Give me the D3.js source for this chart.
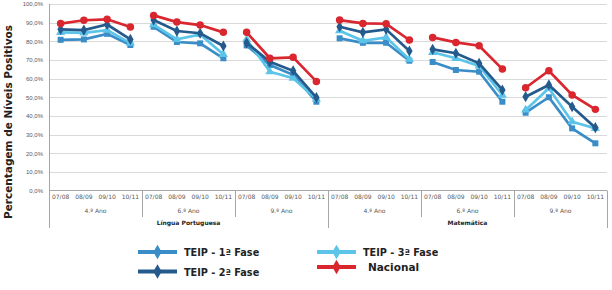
<!DOCTYPE html>
<html>
<head>
<meta charset="utf-8">
<script src="https://cdn.jsdelivr.net/npm/d3@7"></script>
<style>
  body { margin: 0; background: #fff; }
  svg { font-family: "DejaVu Sans", Verdana, sans-serif; }
  .grid line { stroke: #d9d9d9; stroke-width: 1; }
  .tick-label { font-size: 6px; fill: #595959; }
</style>
</head>
<body>
<div id="chart"></div>
<script>
var subjects = ["Língua Portuguesa", "Matemática"];
var grades = ["4.º Ano", "6.º Ano", "9.º Ano"];
var years = ["07/08", "08/09", "09/10", "10/11"];
var yTicks = [0, 10, 20, 30, 40, 50, 60, 70, 80, 90, 100];

var teip1 = [80.8, 81, 84, 78, 87.8, 79.6, 78.9, 70.9, 77.8, 67.3, 62, 47.6,
             81.6, 79.2, 79.2, 69.6, 68.9, 64.6, 63.7, 47.6, 41.7, 50, 33.3, 25.3];
var teip2 = [86.4, 86, 89, 81, 91.4, 85.5, 84.3, 77.5, 79.2, 69, 64.2, 49.8,
             87.8, 84.8, 86.4, 74.8, 75.7, 73.6, 68.2, 53.9, 50.3, 56.6, 44.9, 33.7];
var teip3 = [84.8, 84.5, 86, 79, 88.9, 81, 83.7, 73, 81, 63.7, 60.2, 49,
             85.7, 80.3, 82.1, 70.3, 74.1, 70.9, 66.8, 51.2, 43.2, 54.8, 36.9, 33.3];
var nacional = [89.5, 91.3, 91.8, 87.7, 93.9, 90.3, 88.7, 84.8, 84.8, 70.9, 71.4, 58.5,
                91.4, 89.6, 89.4, 80.7, 82.1, 79.4, 77.6, 65.1, 55.1, 64.2, 51.2, 43.5];

var series = [
  {name: "TEIP - 1ª Fase", values: teip1, color: "#3a8dc6", shape: d3.symbolSquare},
  {name: "TEIP - 3ª Fase", values: teip3, color: "#5cc4e8", shape: d3.symbolTriangle},
  {name: "TEIP - 2ª Fase", values: teip2, color: "#245a8c", shape: d3.symbolDiamond},
  {name: "Nacional", values: nacional, color: "#d9262f", shape: d3.symbolCircle}
];

// flat list of the 24 categories
var cats = [];
subjects.forEach(function(s, si) {
  grades.forEach(function(g, gi) {
    years.forEach(function(y, yi) {
      cats.push({subject: s, grade: g, year: y, group: si * grades.length + gi});
    });
  });
});

var width = 612, height = 290;
var plot = {left: 49, right: 607, top: 4, bottom: 190.5};

var svg = d3.select("#chart").append("svg")
    .attr("width", width)
    .attr("height", height);

var xScale = d3.scaleBand()
    .domain(d3.range(cats.length))
    .range([plot.left, plot.right]);

var yScale = d3.scaleLinear()
    .domain([0, 100])
    .range([plot.bottom, plot.top]);

// gridlines
svg.append("g")
    .attr("class", "grid")
  .selectAll("line")
    .data(yTicks.slice(1))
  .enter().append("line")
    .attr("x1", plot.left)
    .attr("x2", plot.right)
    .attr("y1", function(d) { return Math.round(yScale(d)) + 0.5; })
    .attr("y2", function(d) { return Math.round(yScale(d)) + 0.5; });

// y axis
var yAxis = svg.append("g")
    .attr("transform", "translate(" + plot.left + ",0)")
    .call(d3.axisLeft(yScale)
      .tickValues(yTicks)
      .tickSize(0)
      .tickPadding(6)
      .tickFormat(function(d) { return d3.format(".1f")(d).replace(".", ",") + "%"; }));
yAxis.select(".domain").remove();
yAxis.selectAll("text").attr("class", "tick-label").attr("font-family", null).attr("font-size", null);

// axis frame lines
var axisColor = "#a6a6a6";
svg.append("line")
    .attr("x1", plot.left + 0.5).attr("x2", plot.left + 0.5)
    .attr("y1", plot.top).attr("y2", 228)
    .attr("stroke", axisColor);
svg.append("line")
    .attr("x1", plot.left).attr("x2", plot.right)
    .attr("y1", plot.bottom).attr("y2", plot.bottom)
    .attr("stroke", axisColor);

// category tick labels
svg.append("g").selectAll("text")
    .data(cats)
  .enter().append("text")
    .attr("class", "tick-label")
    .attr("x", function(d, i) { return xScale(i) + xScale.bandwidth() / 2; })
    .attr("y", 199)
    .attr("text-anchor", "middle")
    .text(function(d) { return d.year; });

// grade group labels + separators
var groupW = xScale.bandwidth() * years.length;
var groups = d3.range(subjects.length * grades.length);
svg.append("g").selectAll("text")
    .data(groups)
  .enter().append("text")
    .attr("class", "tick-label")
    .attr("x", function(g) { return xScale(g * years.length) + groupW / 2; })
    .attr("y", 213)
    .attr("text-anchor", "middle")
    .text(function(g) { return grades[g % grades.length]; });

svg.append("g").selectAll("line")
    .data(d3.range(1, groups.length + 1))
  .enter().append("line")
    .attr("x1", function(g) { return Math.round(xScale(g * years.length - 1) + xScale.bandwidth()) + 0.5; })
    .attr("x2", function(g) { return Math.round(xScale(g * years.length - 1) + xScale.bandwidth()) + 0.5; })
    .attr("y1", plot.bottom)
    .attr("y2", function(g) { return g % grades.length == 0 ? 228 : 217; })
    .attr("stroke", axisColor);

// subject labels
var subjW = groupW * grades.length;
svg.append("g").selectAll("text")
    .data(subjects)
  .enter().append("text")
    .attr("x", function(s, i) { return xScale(i * years.length * grades.length) + subjW / 2; })
    .attr("y", 225)
    .attr("text-anchor", "middle")
    .attr("font-size", "6px")
    .attr("font-weight", "bold")
    .attr("fill", "#222")
    .text(function(s) { return s; });

// y axis title
svg.append("text")
    .attr("transform", "translate(12,122) rotate(-90)")
    .attr("text-anchor", "middle")
    .attr("font-size", "10.5px")
    .attr("font-weight", "bold")
    .attr("fill", "#222")
    .text("Percentagem  de Níveis Positivos");

// lines, one segment per grade group
var line = d3.line()
    .x(function(d) { return xScale(d.i) + xScale.bandwidth() / 2; })
    .y(function(d) { return yScale(d.v); });

series.forEach(function(s) {
  var g = svg.append("g");
  groups.forEach(function(grp) {
    var pts = d3.range(years.length).map(function(k) {
      var i = grp * years.length + k;
      return {i: i, v: s.values[i]};
    });
    g.append("path")
        .datum(pts)
        .attr("d", line)
        .attr("fill", "none")
        .attr("stroke", s.color)
        .attr("stroke-width", 2.7);
  });
  g.selectAll(".dot")
      .data(s.values)
    .enter().append("path")
      .attr("d", d3.symbol().type(s.shape).size(s.shape === d3.symbolCircle ? 44 : 36))
      .attr("transform", function(d, i) {
        return "translate(" + (xScale(i) + xScale.bandwidth() / 2) + "," + yScale(d) + ")";
      })
      .attr("fill", s.color);
});

// legend
var legendPos = {
  "TEIP - 1ª Fase": [138, 252],
  "TEIP - 2ª Fase": [138, 271.5],
  "TEIP - 3ª Fase": [317, 252],
  "Nacional": [317, 267]
};
series.forEach(function(s) {
  var p = legendPos[s.name];
  var lg = svg.append("g").attr("transform", "translate(" + p[0] + "," + p[1] + ")");
  lg.append("line")
      .attr("x1", 0).attr("x2", 39)
      .attr("stroke", s.color)
      .attr("stroke-width", 4);
  lg.append("path")
      .attr("d", d3.symbol().type(d3.symbolDiamond).size(60))
      .attr("transform", "translate(19.5,0)")
      .attr("fill", s.color);
  lg.append("text")
      .attr("x", s.name == "Nacional" ? 51 : 46)
      .attr("y", 4)
      .attr("font-size", s.name == "Nacional" ? "10.5px" : "9.7px")
      .attr("font-weight", "bold")
      .attr("fill", "#222")
      .text(s.name);
});
</script>
</body>
</html>
